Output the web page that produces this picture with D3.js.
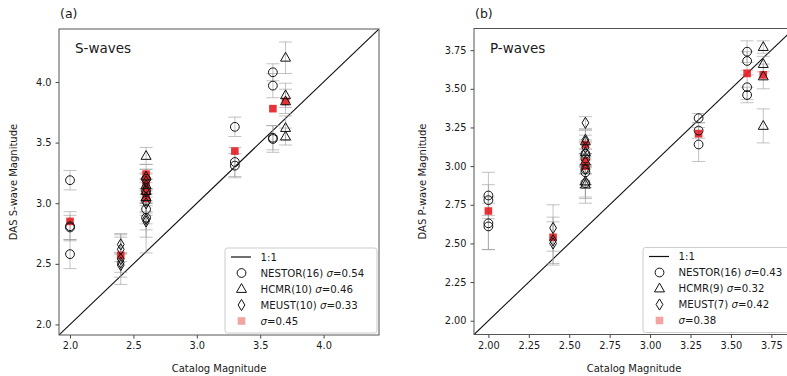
<!DOCTYPE html>
<html>
<head>
<meta charset="utf-8">
<script src="https://cdn.jsdelivr.net/npm/d3@7"></script>
<style>
  body { margin: 0; background: #fff; }
  svg { font-family: "DejaVu Sans", sans-serif; }
</style>
</head>
<body>
<svg id="chart" width="787" height="376"></svg>
<script>
// ---- S-waves data ----
const sNestorCat = [2.0, 2.0, 2.0, 2.0, 2.6, 2.6, 2.6, 2.6, 2.6, 3.3, 3.3, 3.3, 3.6, 3.6, 3.6, 3.6];
const sNestorMag = [3.19, 2.81, 2.80, 2.58, 3.20, 3.10, 3.02, 2.95, 2.88, 3.63, 3.34, 3.31, 4.08, 3.97, 3.54, 3.53];
const sNestorErr = [0.08, 0.12, 0.10, 0.12, 0.08, 0.10, 0.10, 0.12, 0.10, 0.08, 0.12, 0.10, 0.07, 0.10, 0.10, 0.11];
const sHcmrCat = [2.6, 2.6, 2.6, 2.6, 2.6, 3.7, 3.7, 3.7, 3.7, 3.7];
const sHcmrMag = [3.39, 3.22, 3.15, 3.10, 3.05, 4.20, 3.89, 3.84, 3.62, 3.55];
const sHcmrErr = [0.07, 0.10, 0.10, 0.10, 0.12, 0.13, 0.10, 0.10, 0.10, 0.07];
const sMeustCat = [2.4, 2.4, 2.4, 2.4, 2.4, 2.6, 2.6, 2.6, 2.6, 2.6];
const sMeustMag = [2.66, 2.62, 2.54, 2.51, 2.49, 3.18, 3.12, 3.00, 2.87, 2.85];
const sMeustErr = [0.08, 0.10, 0.21, 0.08, 0.10, 0.10, 0.12, 0.10, 0.15, 0.26];
const sMeanCat = [2.0, 2.4, 2.6, 2.6, 2.6, 2.6, 2.6, 3.3, 3.6, 3.7];
const sMeanMag = [2.85, 2.57, 3.24, 3.19, 3.14, 3.09, 3.04, 3.43, 3.78, 3.84];
const sLegend = ["NESTOR(16) ", "0.54", "HCMR(10) ", "0.46", "MEUST(10) ", "0.33", "", "0.45"];

// ---- P-waves data ----
const pNestorCat = [2.0, 2.0, 2.0, 2.0, 2.6, 2.6, 2.6, 2.6, 2.6, 3.3, 3.3, 3.3, 3.6, 3.6, 3.6, 3.6];
const pNestorMag = [2.81, 2.78, 2.63, 2.61, 3.08, 3.05, 2.98, 2.96, 2.89, 3.31, 3.23, 3.14, 3.74, 3.68, 3.51, 3.46];
const pNestorErr = [0.15, 0.10, 0.17, 0.15, 0.08, 0.10, 0.10, 0.10, 0.10, 0.03, 0.05, 0.11, 0.07, 0.06, 0.08, 0.05];
const pHcmrCat = [2.6, 2.6, 2.6, 2.6, 2.6, 3.7, 3.7, 3.7, 3.7];
const pHcmrMag = [3.16, 3.09, 3.03, 2.90, 2.88, 3.77, 3.66, 3.58, 3.26];
const pHcmrErr = [0.08, 0.08, 0.08, 0.10, 0.12, 0.04, 0.05, 0.08, 0.11];
const pMeustCat = [2.4, 2.4, 2.4, 2.6, 2.6, 2.6, 2.6];
const pMeustMag = [2.60, 2.52, 2.50, 3.28, 3.17, 3.12, 2.98];
const pMeustErr = [0.15, 0.15, 0.14, 0.04, 0.06, 0.08, 0.10];
const pMeanCat = [2.0, 2.4, 2.6, 2.6, 2.6, 3.3, 3.6, 3.7];
const pMeanMag = [2.71, 2.54, 3.14, 3.03, 3.00, 3.21, 3.60, 3.59];
const pLegend = ["NESTOR(16) ", "0.43", "HCMR(9) ", "0.32", "MEUST(7) ", "0.42", "", "0.38"];

const sTicks = [2.0, 2.5, 3.0, 3.5, 4.0];
const pTicks = [2.0, 2.25, 2.5, 2.75, 3.0, 3.25, 3.5, 3.75];

const svg = d3.select("#chart");

const shapes = {
  circle: "M4.4,0A4.4,4.4 0 1,1 -4.4,0A4.4,4.4 0 1,1 4.4,0Z",
  tri: "M0,-5.4L5,3.4L-5,3.4Z",
  dia: "M0,-5.6L3.4,0L0,5.6L-3.4,0Z",
  square: "M-3.8,-3.8H3.8V3.8H-3.8Z"
};

function zip(cat, mag, err) {
  return cat.map((c, i) => ({ c: c, m: mag[i], e: err ? err[i] : 0 }));
}

function drawPanel(o) {
  const g = svg.append("g").attr("transform", `translate(${o.left},${o.top})`);
  const w = 320, h = 306;
  const x = d3.scaleLinear().domain(o.domain).range([0, w]);
  const y = d3.scaleLinear().domain(o.domain).range([h, 0]);

  const clip = "clip" + o.id;
  g.append("clipPath").attr("id", clip).append("rect").attr("width", w).attr("height", h);
  const plot = g.append("g").attr("clip-path", `url(#${clip})`);

  // 1:1 line
  plot.append("line")
    .attr("x1", x(o.domain[0])).attr("y1", y(o.domain[0]))
    .attr("x2", x(o.domain[1])).attr("y2", y(o.domain[1]))
    .attr("stroke", "#111").attr("stroke-width", 1.1);

  const groups = [
    { d: zip(o.nestor[0], o.nestor[1], o.nestor[2]), s: shapes.circle },
    { d: zip(o.hcmr[0], o.hcmr[1], o.hcmr[2]), s: shapes.tri },
    { d: zip(o.meust[0], o.meust[1], o.meust[2]), s: shapes.dia }
  ];

  // error bars
  groups.forEach(gr => {
    const eb = plot.append("g").selectAll("g").data(gr.d).enter().append("g")
      .attr("stroke", "#9a9a9a").attr("stroke-opacity", 0.6).attr("stroke-width", 1);
    eb.append("line")
      .attr("x1", d => x(d.c)).attr("x2", d => x(d.c))
      .attr("y1", d => y(d.m - d.e)).attr("y2", d => y(d.m + d.e));
    eb.append("line")
      .attr("x1", d => x(d.c) - 6.5).attr("x2", d => x(d.c) + 6.5)
      .attr("y1", d => y(d.m - d.e)).attr("y2", d => y(d.m - d.e));
    eb.append("line")
      .attr("x1", d => x(d.c) - 6.5).attr("x2", d => x(d.c) + 6.5)
      .attr("y1", d => y(d.m + d.e)).attr("y2", d => y(d.m + d.e));
  });

  // red means
  plot.append("g").selectAll("path").data(zip(o.mean[0], o.mean[1])).enter().append("path")
    .attr("d", shapes.square)
    .attr("transform", d => `translate(${x(d.c)},${y(d.m)})`)
    .attr("fill", "#e61e24").attr("fill-opacity", 0.9);

  // station markers
  groups.forEach(gr => {
    plot.append("g").selectAll("path").data(gr.d).enter().append("path")
      .attr("d", gr.s)
      .attr("transform", d => `translate(${x(d.c)},${y(d.m)})`)
      .attr("fill", "none").attr("stroke", "#111").attr("stroke-width", 1);
  });

  // axes
  const xAxis = g.append("g").attr("transform", `translate(0,${h})`)
    .call(d3.axisBottom(x).tickValues(o.ticks).tickFormat(o.fmt).tickSize(3.5).tickPadding(4));
  const yAxis = g.append("g")
    .call(d3.axisLeft(y).tickValues(o.ticks).tickFormat(o.fmt).tickSize(3.5).tickPadding(4));
  [xAxis, yAxis].forEach(a => {
    a.select(".domain").remove();
    a.selectAll("line").attr("stroke", "#444");
    a.selectAll("text").attr("fill", "#1a1a1a").style("font-size", "9.8px")
      .style("font-family", "DejaVu Sans");
  });
  g.append("rect").attr("width", w).attr("height", h)
    .attr("fill", "none").attr("stroke", "#555").attr("stroke-width", 1);

  // labels
  g.append("text").attr("x", w / 2).attr("y", h + 37).attr("text-anchor", "middle")
    .style("font-size", "10px").attr("fill", "#1a1a1a").text("Catalog Magnitude");
  g.append("text").attr("transform", `translate(${o.ylabX},${h / 2}) rotate(-90)`)
    .attr("text-anchor", "middle").style("font-size", "10px").attr("fill", "#1a1a1a")
    .text(o.ylab);
  g.append("text").attr("x", 1).attr("y", -11).style("font-size", "12.5px").attr("fill", "#1a1a1a")
    .text(o.tag);
  g.append("text").attr("x", 16).attr("y", 24).style("font-size", "13.5px").attr("fill", "#1a1a1a")
    .text(o.title);

  // legend
  const lg = g.append("g").attr("transform", `translate(${o.legX},219)`);
  lg.append("rect").attr("width", 152).attr("height", 85).attr("rx", 2.5)
    .attr("fill", "#fff").attr("fill-opacity", 0.85).attr("stroke", "#ccc").attr("stroke-width", 1);
  lg.append("line").attr("x1", 6).attr("x2", 26).attr("y1", 9).attr("y2", 9)
    .attr("stroke", "#111").attr("stroke-width", 1.2);
  lg.append("text").attr("x", 35.5).attr("y", 12.5).style("font-size", "10.2px").attr("fill", "#1a1a1a").text("1:1");
  const lShapes = [shapes.circle, shapes.tri, shapes.dia, shapes.square];
  lShapes.forEach((s, i) => {
    const yy = 25 + i * 16;
    lg.append("path").attr("d", s).attr("transform", `translate(16.5,${yy})`)
      .attr("fill", i === 3 ? "#f4a3a3" : "none").attr("stroke", i === 3 ? "none" : "#111");
    const t = lg.append("text").attr("x", 35.5).attr("y", yy + 3.5)
      .style("font-size", "10.2px").attr("fill", "#1a1a1a");
    t.append("tspan").text(o.legend[i * 2]);
    t.append("tspan").style("font-style", "italic").text("σ");
    t.append("tspan").text("=" + o.legend[i * 2 + 1]);
  });
}

drawPanel({
  id: "a", left: 59, top: 29, domain: [1.913, 4.437], ticks: sTicks, fmt: d3.format(".1f"),
  nestor: [sNestorCat, sNestorMag, sNestorErr], hcmr: [sHcmrCat, sHcmrMag, sHcmrErr],
  meust: [sMeustCat, sMeustMag, sMeustErr], mean: [sMeanCat, sMeanMag],
  ylab: "DAS S-wave Magnitude", ylabX: -42, tag: "(a)", title: "S-waves",
  legend: sLegend, legX: 166
});
drawPanel({
  id: "b", left: 474, top: 28.5, domain: [1.911, 3.89], ticks: pTicks, fmt: d3.format(".2f"),
  nestor: [pNestorCat, pNestorMag, pNestorErr], hcmr: [pHcmrCat, pHcmrMag, pHcmrErr],
  meust: [pMeustCat, pMeustMag, pMeustErr], mean: [pMeanCat, pMeanMag],
  ylab: "DAS P-wave Magnitude", ylabX: -48, tag: "(b)", title: "P-waves",
  legend: pLegend, legX: 169
});
</script>
</body>
</html>
